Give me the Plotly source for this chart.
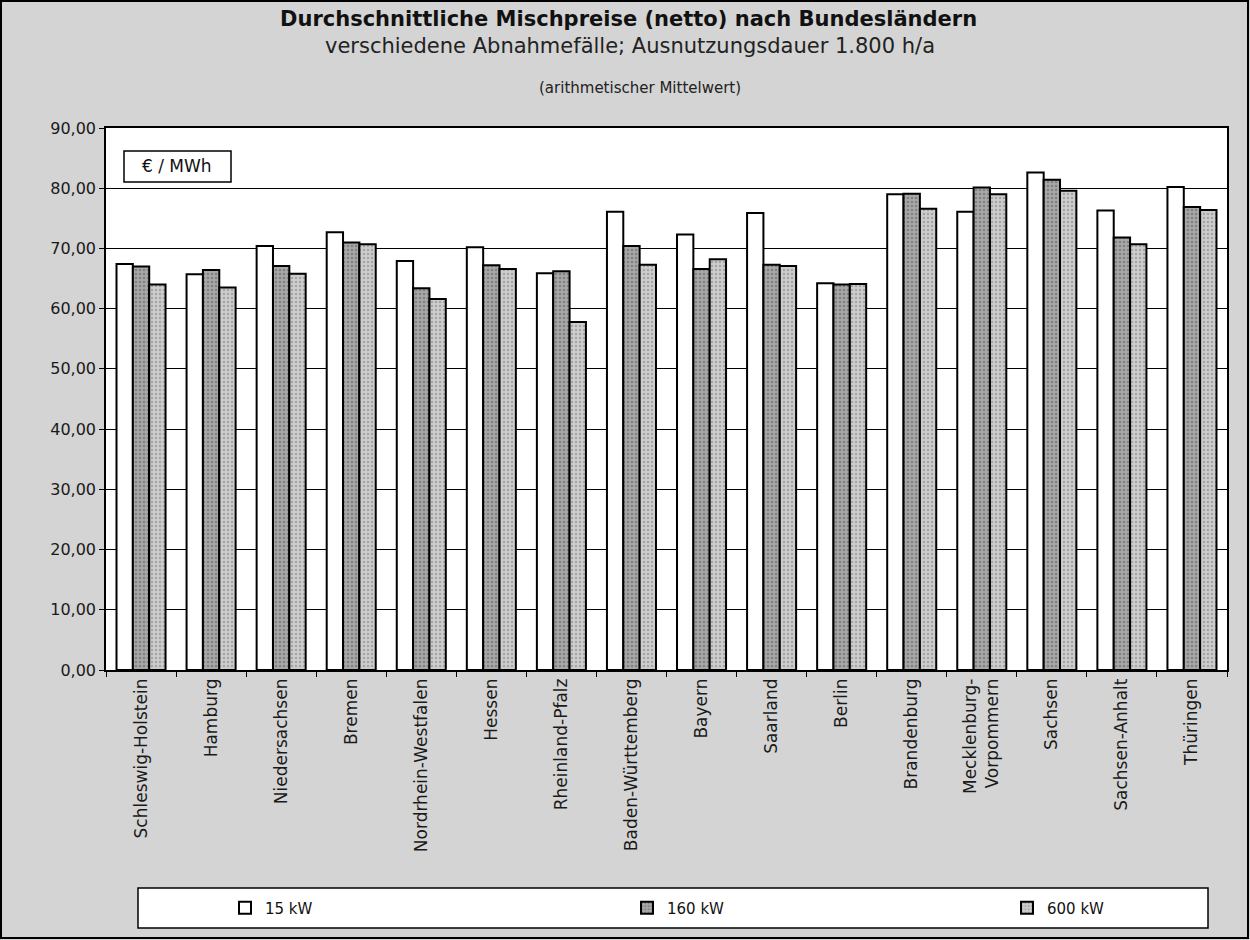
import plotly.graph_objects as go

# Bundesländer (x categories)
laender = [
    "Schleswig-Holstein", "Hamburg", "Niedersachsen", "Bremen",
    "Nordrhein-Westfalen", "Hessen", "Rheinland-Pfalz", "Baden-Württemberg",
    "Bayern", "Saarland", "Berlin", "Brandenburg",
    "Mecklenburg-<br>Vorpommern", "Sachsen", "Sachsen-Anhalt", "Thüringen",
]

# average mixed prices in EUR/MWh per consumption case
preis_15kw = [67.4, 65.7, 70.4, 72.7, 67.9, 70.2, 65.9, 76.1,
              72.3, 75.9, 64.2, 79.0, 76.1, 82.6, 76.3, 80.2]
preis_160kw = [67.0, 66.4, 67.1, 71.0, 63.4, 67.2, 66.2, 70.4,
               66.6, 67.3, 64.0, 79.1, 80.1, 81.4, 71.8, 76.9]
preis_600kw = [64.0, 63.5, 65.8, 70.7, 61.6, 66.6, 57.8, 67.3,
               68.2, 67.1, 64.1, 76.6, 79.0, 79.6, 70.7, 76.4]

y_ticks = [0, 10, 20, 30, 40, 50, 60, 70, 80, 90]

# plot area in page pixels
W, H = 1250, 940
L, R, T, B = 106, 1227, 128, 670
PW, PH = R - L, B - T


def px(x):
    return (x - L) / PW


def py(y):
    return (B - y) / PH


font_main = "DejaVu Sans, Arial, sans-serif"

fig = go.Figure()

fig.add_trace(go.Bar(
    name="15 kW", x=laender, y=preis_15kw, legend="legend",
    marker=dict(color="white", line=dict(color="black", width=2)),
))
fig.add_trace(go.Bar(
    name="160 kW", x=laender, y=preis_160kw, legend="legend2",
    marker=dict(color="#9a9a9a", line=dict(color="black", width=2),
                pattern=dict(shape=".", fgcolor="#5a5a5a", bgcolor="#a8a8a8",
                             size=4, solidity=0.35)),
))
fig.add_trace(go.Bar(
    name="600 kW", x=laender, y=preis_600kw, legend="legend3",
    marker=dict(color="#c4c4c4", line=dict(color="black", width=2),
                pattern=dict(shape=".", fgcolor="#7a7a7a", bgcolor="#cdcdcd",
                             size=4, solidity=0.3)),
))

shapes = [
    # outer frame of the page
    dict(type="rect", xref="paper", yref="paper",
         x0=px(1), x1=px(W - 2), y0=py(H - 2), y1=py(1),
         line=dict(color="black", width=2), layer="below"),
    # unit box
    dict(type="rect", xref="paper", yref="paper",
         x0=px(124), x1=px(231), y0=py(182), y1=py(151),
         line=dict(color="black", width=1.5), fillcolor="white"),
    # legend frame
    dict(type="rect", xref="paper", yref="paper",
         x0=px(138), x1=px(1208), y0=py(928), y1=py(888),
         line=dict(color="black", width=1.5), fillcolor="white"),
]


def label(text, x, y, size, color="#111"):
    return dict(text=text, x=px(x), y=py(y), xref="paper", yref="paper",
                xanchor="center", yanchor="middle", showarrow=False,
                font=dict(size=size, color=color, family=font_main))


annotations = [
    label("<b>Durchschnittliche Mischpreise (netto) nach Bundesländern</b>",
          628, 19, 21),
    label("verschiedene Abnahmefälle; Ausnutzungsdauer 1.800 h/a",
          630, 46, 21, "#222"),
    label("(arithmetischer Mittelwert)", 640, 88, 15, "#222"),
    label("€ / MWh", 177, 166, 17),
]


def legend_at(x_text):
    # one legend entry whose label starts at page pixel x_text
    return dict(
        orientation="h", x=px(x_text - 40), xanchor="left",
        y=py(908), yanchor="middle",
        bgcolor="rgba(0,0,0,0)", borderwidth=0,
        font=dict(size=15, color="#111", family=font_main),
    )


fig.update_layout(
    width=W, height=H,
    margin=dict(l=L, r=W - R, t=T, b=H - B, autoexpand=False),
    paper_bgcolor="#d4d4d4",
    plot_bgcolor="white",
    showlegend=True,
    barmode="group",
    bargap=0.3,
    bargroupgap=0,
    separators=", ",
    font=dict(family=font_main, color="#222"),
    shapes=shapes,
    annotations=annotations,
    legend=legend_at(265),
    legend2=legend_at(667),
    legend3=legend_at(1047),
    xaxis=dict(
        tickangle=-90, tickson="boundaries", ticks="outside", ticklen=5,
        tickcolor="black", showline=True, linecolor="black", linewidth=1.5,
        mirror=True, showgrid=False,
        tickfont=dict(size=17, color="#1a1a1a", family=font_main),
    ),
    yaxis=dict(
        range=[0, 90], tickvals=y_ticks, tickformat=".2f",
        ticks="outside", ticklen=5, tickcolor="black",
        showline=True, linecolor="black", linewidth=1.5, mirror=True,
        showgrid=True, gridcolor="black", gridwidth=1,
        zeroline=False,
        tickfont=dict(size=16, color="#1a1a1a", family=font_main),
    ),
)

fig.write_html("out.html")
